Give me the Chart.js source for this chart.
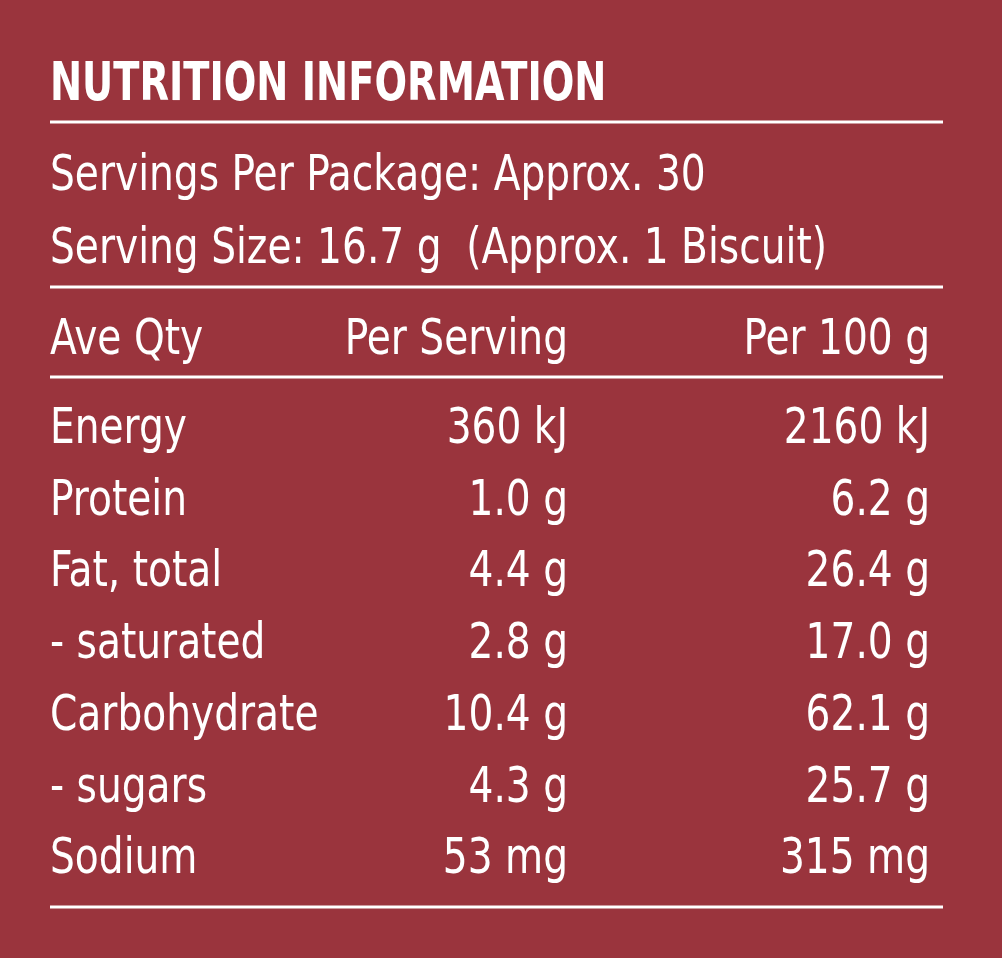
<!DOCTYPE html>
<html><head><meta charset="utf-8">
<script src="https://cdn.jsdelivr.net/npm/chart.js@4/dist/chart.umd.min.js"></script>
<style>html,body{margin:0;padding:0;background:#9a343d;}#w{width:1002px;height:958px;}</style>
</head><body><div id="w"><canvas id="c" width="1002" height="958"></canvas></div>
<script>
const title = "NUTRITION INFORMATION";
const infoLines = ["Servings Per Package: Approx. 30", "Serving Size: 16.7 g  (Approx. 1 Biscuit)"];
const headers = ["Ave Qty", "Per Serving", "Per 100 g"];
const nutrients = ["Energy", "Protein", "Fat, total", "- saturated", "Carbohydrate", "- sugars", "Sodium"];
const perServing = ["360 kJ", "1.0 g", "4.4 g", "2.8 g", "10.4 g", "4.3 g", "53 mg"];
const per100g = ["2160 kJ", "6.2 g", "26.4 g", "17.0 g", "62.1 g", "25.7 g", "315 mg"];

const FONT = "'DejaVu Sans Condensed','Liberation Sans Narrow',sans-serif";
function txt(ctx, s, x, y, align, sx) {
  ctx.save();
  ctx.translate(x, y);
  ctx.scale(sx, 1);
  ctx.textAlign = align;
  ctx.fillText(s, 0, 0);
  ctx.restore();
}
const tablePlugin = {
  id: 'table',
  afterDraw(chart) {
    const ctx = chart.ctx;
    ctx.save();
    ctx.fillStyle = '#fff'; ctx.strokeStyle = '#fff';
    ctx.textBaseline = 'alphabetic';
    const L = 50, R = 943, C1 = 568, C2 = 930;
    ctx.lineWidth = 3;
    [122, 287, 377, 907].forEach(y => { ctx.beginPath(); ctx.moveTo(L, y); ctx.lineTo(R, y); ctx.stroke(); });
    ctx.font = "bold 54px " + FONT;
    txt(ctx, title, L, 100, 'left', 0.79);
    ctx.font = "50px " + FONT;
    const S = 0.87;
    txt(ctx, infoLines[0], L, 190, 'left', S);
    txt(ctx, infoLines[1], L, 263, 'left', S);
    txt(ctx, headers[0], L, 354, 'left', S);
    txt(ctx, headers[1], C1, 354, 'right', S);
    txt(ctx, headers[2], C2, 354, 'right', S);
    nutrients.forEach((n, i) => {
      const y = 443 + i * 71.7;
      txt(ctx, n, L, y, 'left', S);
      txt(ctx, perServing[i], C1, y, 'right', S);
      txt(ctx, per100g[i], C2, y, 'right', S);
    });
    ctx.restore();
  }
};
new Chart(document.getElementById('c'), {
  type: 'bar',
  data: { labels: nutrients, datasets: [{ data: [], backgroundColor: 'transparent' }] },
  options: {
    responsive: false, animation: false, events: [],
    plugins: { legend: { display: false }, tooltip: { enabled: false } },
    scales: { x: { display: false }, y: { display: false } }
  },
  plugins: [tablePlugin]
});
</script></body></html>
